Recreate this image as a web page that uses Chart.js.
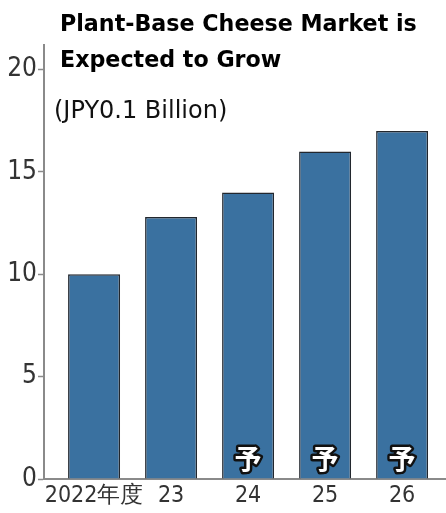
<!DOCTYPE html>
<html>
<head>
<meta charset="utf-8">
<script src="https://cdn.jsdelivr.net/npm/chart.js@4"></script>
<style>
  body { margin: 0; background: #fff; }
  #wrap { position: relative; width: 446px; height: 513px; }
  canvas { position: absolute; left: 0; top: 0; }
  .title { position: absolute; left: 60px; top: 5px; font: bold 22.2px "DejaVu Sans", sans-serif; color: #000; line-height: 36px; }
  .unit { position: absolute; left: 54px; top: 96px; font: 24px "DejaVu Sans", sans-serif; color: #111; }
</style>
</head>
<body>
<div id="wrap">
  <canvas id="chart" width="446" height="513"></canvas>
  <div class="title">Plant-Base Cheese Market is<br>Expected to Grow</div>
  <div class="unit">(JPY0.1 Billion)</div>
</div>
<script>
// 年度と市場規模 (0.1億円)
const categories = ["2022年度", "23", "24", "25", "26"];
const values = [10, 12.8, 14, 16, 17];
const forecast = [false, false, true, true, true]; // 予測値
const yTicks = [0, 5, 10, 15, 20];

const xFont = { family: "'DejaVu Sans Condensed', 'DejaVu Sans', sans-serif", style: "condensed", size: 23 };
const yFont = { family: "'DejaVu Sans Condensed', 'DejaVu Sans', sans-serif", style: "condensed", size: 26 };

// 予 のマーク
const forecastMarks = {
    id: "forecastMarks",
    afterDatasetsDraw(chart) {
        let ctx = chart.ctx;
        let meta = chart.getDatasetMeta(0);
        let yPos = chart.scales.y.getPixelForValue(0) - 20;
        ctx.save();
        ctx.font = "bold 27px 'Noto Sans CJK JP', sans-serif";
        ctx.textAlign = "center";
        ctx.textBaseline = "middle";
        ctx.lineJoin = "round";
        meta.data.forEach((bar, i) => {
            if (!forecast[i]) return;
            ctx.lineWidth = 5;
            ctx.strokeStyle = "#111";
            ctx.strokeText("予", bar.x, yPos);
            ctx.fillStyle = "#fff";
            ctx.fillText("予", bar.x, yPos);
        });
        ctx.restore();
    }
};

let ctx = document.getElementById("chart").getContext("2d");
new Chart(ctx, {
    type: "bar",
    data: {
        datasets: [{
            data: values.map((v, i) => ({ x: i, y: v })),
            backgroundColor: "#3a71a0",
            borderColor: "#22272e",
            borderWidth: 1.5,
            categoryPercentage: 1,
            barPercentage: 0.675
        }]
    },
    options: {
        responsive: false,
        animation: false,
        layout: { padding: { top: 45, right: 0, left: 0, bottom: 0 } },
        plugins: { legend: { display: false }, tooltip: { enabled: false } },
        scales: {
            x: {
                type: "linear",
                offset: false,
                min: -0.65,
                max: 4.57,
                afterBuildTicks: s => { s.ticks = categories.map((c, i) => ({ value: i })); },
                afterFit: s => { s.height = 34; },
                grid: { display: false, drawTicks: false, offset: false },
                border: { color: "#8a8a8a", width: 2 },
                ticks: {
                    callback: v => categories[v],
                    font: xFont,
                    color: "#333",
                    padding: 3,
                    maxRotation: 0,
                    autoSkip: false
                }
            },
            y: {
                min: 0,
                max: 21.2,
                afterBuildTicks: s => { s.ticks = yTicks.map(v => ({ value: v })); },
                afterFit: s => { s.width = 44; },
                grid: { drawOnChartArea: false, tickLength: 6, color: "#8a8a8a", tickWidth: 1.5 },
                border: { color: "#8a8a8a", width: 2 },
                ticks: { font: yFont, color: "#333", padding: 1 }
            }
        }
    },
    plugins: [forecastMarks]
});
</script>
</body>
</html>
